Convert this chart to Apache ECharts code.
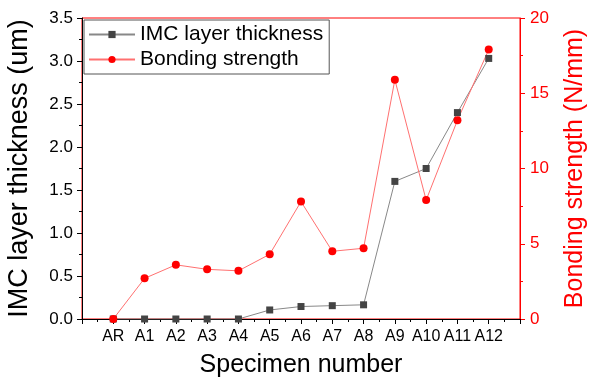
<!DOCTYPE html>
<html>
<head>
<meta charset="utf-8">
<script src="https://cdn.jsdelivr.net/npm/echarts@6/dist/echarts.min.js"></script>
<style>
  html, body { margin: 0; padding: 0; background: #fff; }
  #main { width: 590px; height: 379px; }
</style>
</head>
<body>
<div id="main"></div>
<script>
// specimens on x axis
var specimens = ['AR', 'A1', 'A2', 'A3', 'A4', 'A5', 'A6', 'A7', 'A8', 'A9', 'A10', 'A11', 'A12'];
// IMC layer thickness (um), left axis
var thickness = [0, 0, 0, 0, 0, 0.105, 0.145, 0.155, 0.165, 1.60, 1.75, 2.40, 3.03];
// bonding strength (N/mm), right axis
var strength = [0, 2.7, 3.6, 3.3, 3.2, 4.3, 7.8, 4.5, 4.7, 15.9, 7.9, 13.2, 17.9];

function pairs(vals){
    return vals.map(function(v, i){ return [i, v]; });
}

var font = 'Arial, "Liberation Sans", sans-serif';
var chart = echarts.init(document.getElementById('main'), null, {renderer: 'canvas'});

var option = {
    animation: false,
    backgroundColor: '#fff',
    textStyle: {fontFamily: font},
    grid: {
        left: 82, right: 70, top: 18, bottom: 60,
        outerBoundsMode: 'none',
        show: true, borderColor: '#ff0000', borderWidth: 1, backgroundColor: 'transparent'
    },
    legend: {
        left: 84, top: 20,
        orient: 'vertical',
        borderColor: '#555', borderWidth: 1, borderRadius: 0,
        padding: [4, 6, 4, 4],
        itemGap: 4,
        itemWidth: 46, itemHeight: 9,
        textStyle: {fontSize: 21, color: '#000', fontFamily: font},
        data: ['IMC layer thickness', 'Bonding strength']
    },
    xAxis: {
        type: 'value',
        min: -1, max: 13, interval: 1,
        name: 'Specimen number',
        nameLocation: 'middle', nameGap: 34,
        nameTextStyle: {fontSize: 25, color: '#000'},
        axisLine: {onZero: false, lineStyle: {color: '#000', width: 1}},
        axisTick: {inside: false, length: 5, lineStyle: {color: '#000'}},
        minorTick: {show: true, splitNumber: 2, length: 3, lineStyle: {color: '#000'}},
        splitLine: {show: false},
        axisLabel: {
            fontSize: 16, color: '#000', margin: 10,
            formatter: function(v){ return specimens[v] || ''; }
        }
    },
    yAxis: [{
        type: 'value',
        min: 0, max: 3.5, interval: 0.5,
        name: 'IMC layer thickness (um)',
        nameLocation: 'middle', nameGap: 49, nameRotate: 90,
        nameTextStyle: {fontSize: 27, color: '#000'},
        axisLine: {show: true, onZero: false, lineStyle: {color: '#000'}},
        axisTick: {show: true, length: 5, lineStyle: {color: '#000'}},
        minorTick: {show: true, splitNumber: 2, length: 3, lineStyle: {color: '#000'}},
        splitLine: {show: false},
        axisLabel: {fontSize: 17, color: '#000', margin: 9,
            formatter: function(v){ return v.toFixed(1); }}
    }, {
        type: 'value',
        min: 0, max: 20, interval: 5,
        position: 'right',
        name: 'Bonding strength (N/mm)',
        nameLocation: 'middle', nameGap: 43, nameRotate: 90,
        nameTextStyle: {fontSize: 25, color: '#ff0000'},
        axisLine: {show: true, onZero: false, lineStyle: {color: '#ff0000'}},
        axisTick: {show: true, length: 5, lineStyle: {color: '#ff0000'}},
        minorTick: {show: true, splitNumber: 2, length: 3, lineStyle: {color: '#ff0000'}},
        splitLine: {show: false},
        axisLabel: {fontSize: 17, color: '#ff0000', margin: 10}
    }],
    series: [{
        name: 'IMC layer thickness',
        type: 'line',
        yAxisIndex: 0,
        data: pairs(thickness),
        symbol: 'rect', symbolSize: 7,
        itemStyle: {color: '#444'},
        lineStyle: {color: '#888', width: 1}
    }, {
        name: 'Bonding strength',
        type: 'line',
        yAxisIndex: 1,
        data: pairs(strength),
        symbol: 'circle', symbolSize: 8,
        itemStyle: {color: '#ff0000'},
        lineStyle: {color: '#ff7070', width: 1},
        z: 3
    }]
};

chart.setOption(option);
</script>
</body>
</html>
